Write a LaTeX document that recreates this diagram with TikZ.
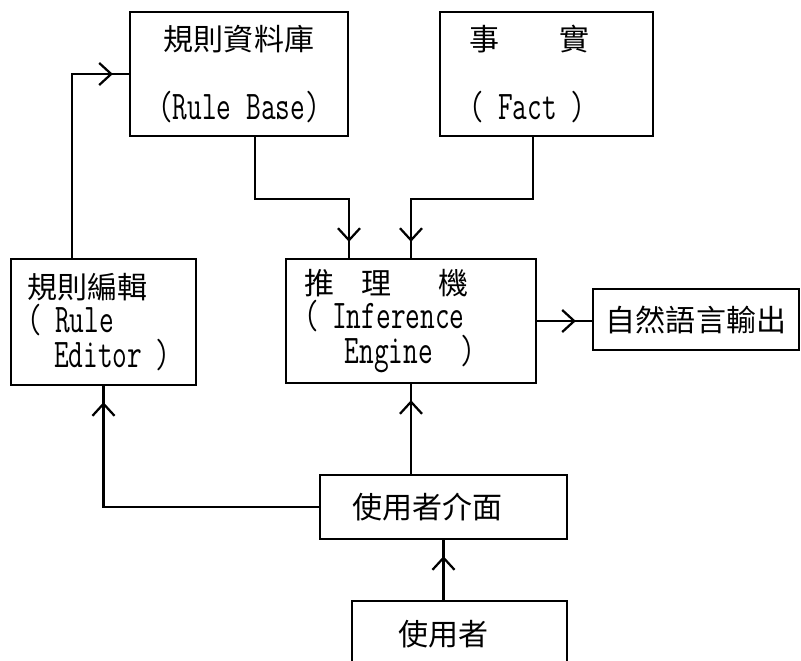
\documentclass[tikz,border=0pt]{standalone}
\usepackage{fontspec}
\usetikzlibrary{arrows.meta,decorations.markings}
\newfontfamily\tfont[FakeStretch=0.70]{Latin Modern Mono}
\newfontfamily\cjk[Scale=0.736]{Noto Sans CJK TC}
\lineskiplimit=-30pt

\begin{document}
\begin{tikzpicture}[
    box/.style={draw, line width=1.6pt, inner ysep=0pt, font=\fontsize{29pt}{24.5pt}\tfont},
    arr/.style={line width=1.6pt, postaction={decorate},
        decoration={markings, mark=at position -0.4cm with {\arrow{Straight Barb[length=3mm, width=5.5mm]}}}},
]
\useasboundingbox (0,0) rectangle (20.025,-16.5);
% Knowledge sources (top row)
\node[box, minimum width=5.45cm, minimum height=3.1cm, align=center] (rulebase) at (5.975,-1.85) {{\cjk 規則資料庫}\\[24pt](Rule Base)};
\node[box, minimum width=5.325cm, minimum height=3.1cm, text width=3.825cm, inner xsep=0.75cm, align=left] (fact) at (13.66,-1.85) {{\cjk 事}~~~~\kern4pt{\cjk 實}\\[24pt](~Fact~)};
% Middle row
\node[box, minimum width=4.625cm, minimum height=3.15cm, text width=3.825cm, inner xsep=0.4cm, align=left] (editor) at (2.5875,-8.05) {{\cjk 規則編輯}\\(~Rule\\\mbox{}~~Editor~)};
\node[box, minimum width=6.25cm, minimum height=3.1cm, text width=5.35cm, inner xsep=0.45cm, align=left] (infer) at (10.275,-8.025) {{\cjk 推}~~{\cjk 理}~~~\kern5pt{\cjk 機}\\(~Inference\\\mbox{}~~~Engine~~)};
\node[box, minimum width=5.15cm, minimum height=1.525cm, align=center] (nlout) at (17.4,-7.99) {\cjk 自然語言輸出};
% User side (bottom)
\node[box, minimum width=6.175cm, minimum height=1.6cm, text width=4.575cm, inner xsep=0.8cm, align=left] (ui) at (11.0875,-12.675) {\cjk 使用者介面};
\node[box, minimum width=5.375cm, minimum height=1.65cm, text width=3.075cm, inner xsep=1.15cm, align=left] (user) at (11.4875,-15.85) {\cjk 使用者};
% Into the inference engine
\draw[arr] ([xshift=4mm]rulebase.south) -- ++(0,-1.55) -| ([xshift=-15.5mm]infer.north);
\draw[arr] ([xshift=-3.35mm]fact.south) -- ++(0,-1.55) -| (infer.north);
\draw[arr] (ui.north -| infer.south) -- (infer.south);
% Editor and output
\draw[arr] ([xshift=-7.9mm]editor.north) |- (rulebase.west);
\draw[arr] (ui.west) -| (editor.south);
\draw[arr] (infer.east) -- (infer.east -| nlout.west);
\draw[arr] (ui.south |- user.north) -- (ui.south);
\end{tikzpicture}
\end{document}
